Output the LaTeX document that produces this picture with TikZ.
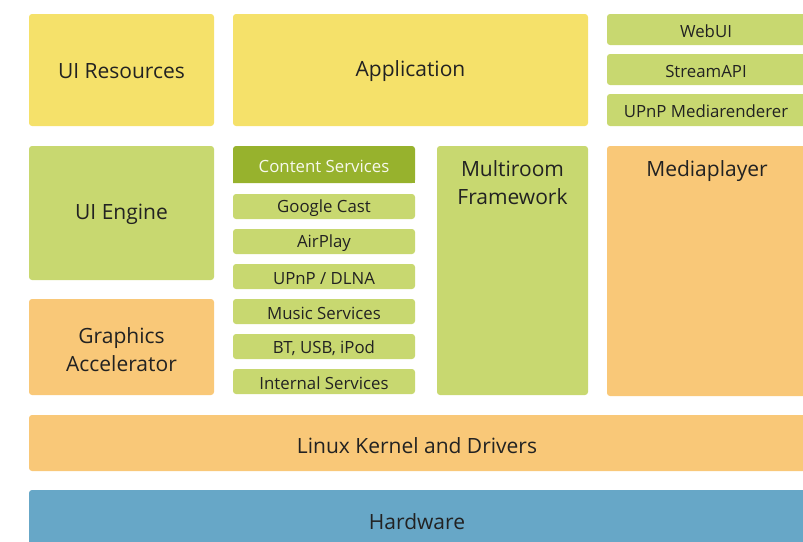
\documentclass[tikz,border=0pt]{standalone}
\usepackage{fontspec}
\setmainfont{Open Sans}
\definecolor{cyel}{HTML}{F5E16A}
\definecolor{cgrn}{HTML}{C8D870}
\definecolor{cdgr}{HTML}{97B22D}
\definecolor{corg}{HTML}{F9C878}
\definecolor{cblu}{HTML}{67A7C7}
\definecolor{ctxt}{HTML}{222222}
\begin{document}
\begin{tikzpicture}[x=1pt,y=-1pt,
  blk/.style={rounded corners=3pt},
  sml/.style={blk,fill=cgrn},
  st/.style={text=ctxt,font=\fontsize{16.8}{18}\selectfont,inner sep=0pt},
  lbl/.style={text=ctxt,font=\fontsize{21}{28}\selectfont,align=center,anchor=north,inner sep=0pt}]
\useasboundingbox (0,0) rectangle (803,541);
\begin{scope}
\clip (0,0) rectangle (803,541);
% top row
\fill[blk,fill=cyel] (29,14) rectangle (214,126);
\node[lbl,anchor=center] (uires) at (121.5,71.5) {UI Resources};
\fill[blk,fill=cyel] (233,14) rectangle (588,126);
\node[lbl,anchor=center] (app) at (410.5,71.5) {Application};
\fill[sml] (607,14) rectangle (830,45);
\node[st] (webui) at (706,31) {WebUI};
\fill[sml] (607,54) rectangle (830,85);
\node[st] (stream) at (706,71) {StreamAPI};
\fill[sml] (607,94) rectangle (830,126);
\node[st] (upnpmr) at (706,111.5) {UPnP Mediarenderer};
% middle
\fill[blk,fill=cgrn] (29,146) rectangle (214,280);
\node[lbl,anchor=center] (uieng) at (121.5,214.5) {UI Engine};
\fill[blk,fill=corg] (29,299) rectangle (214,395);
\node[lbl,anchor=center] (gfx) at (121.5,349.5) {Graphics\\Accelerator};
% content services
\fill[cdgr,rounded corners=3pt] (233,183) -- (233,146) -- (415,146) -- (415,183) [sharp corners] -- cycle;
\fill[cdgr] (233,170) rectangle (415,183);
\node[st,text=white!92!cdgr] (cs) at (324,166) {Content Services};
\fill[sml] (233,194) rectangle (415,219);
\node[st] (cs1) at (324,208.5) {Google Cast};
\fill[sml] (233,229) rectangle (415,254);
\node[st] (cs2) at (324,243.5) {AirPlay};
\fill[sml] (233,264) rectangle (415,289);
\node[st] (cs3) at (324,278.5) {UPnP / DLNA};
\fill[sml] (233,299) rectangle (415,324);
\node[st] (cs4) at (324,313.5) {Music Services};
\fill[sml] (233,334) rectangle (415,359);
\node[st] (cs5) at (324,348.5) {BT, USB, iPod};
\fill[sml] (233,369) rectangle (415,394);
\node[st] (cs6) at (324,383.5) {Internal Services};
\fill[blk,fill=cgrn] (437,146) rectangle (588,395);
\node[lbl] (multi) at (512.5,160) {Multiroom\\Framework};
\fill[blk,fill=corg] (607,146) rectangle (830,396);
\node[lbl] (mp) at (707,160) {Mediaplayer};
% bottom
\fill[blk,fill=corg] (29,415) rectangle (830,471);
\node[lbl,anchor=center] (linux) at (417,445.5) {Linux Kernel and Drivers};
\fill[blk,fill=cblu] (29,490) rectangle (830,560);
\node[lbl,anchor=center] (hw) at (417,521.5) {Hardware};
\end{scope}
\end{tikzpicture}
\end{document}
